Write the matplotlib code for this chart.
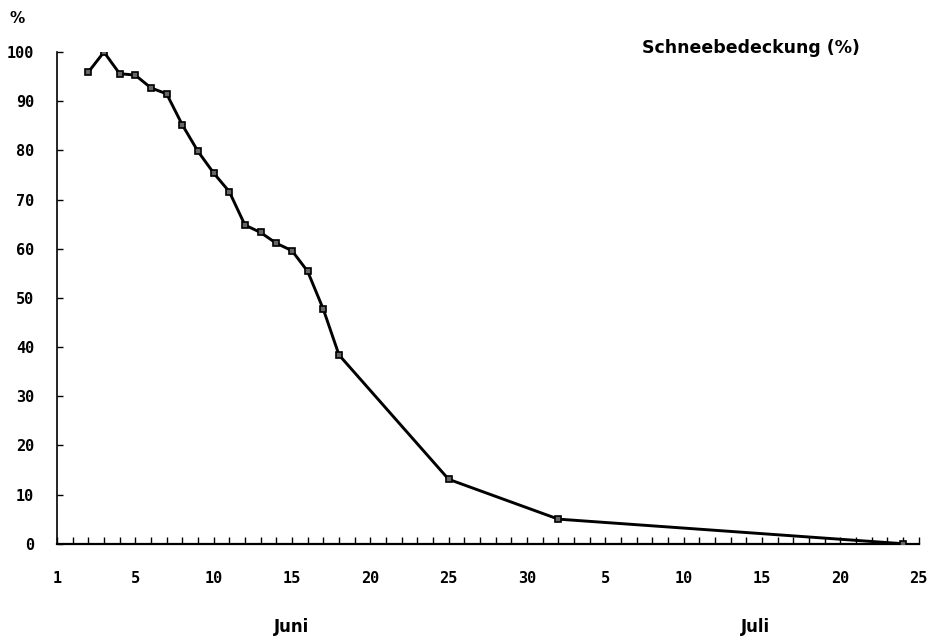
"""
Snow cover (Schneebedeckung) in percent, June 1 to July 25.
"""

import matplotlib
matplotlib.use("Agg")
import matplotlib.pyplot as plt
from matplotlib.transforms import blended_transform_factory

# day index: 1 = 1 June, 31 = 1 July
days = [2, 3, 4, 5, 6, 7, 8, 9, 10, 11, 12, 13, 14, 15, 16, 17, 18, 25, 32, 54]
cover = [95.9, 100.0, 95.6, 95.3, 92.7, 91.5, 85.2, 79.8, 75.4, 71.6,
         64.8, 63.3, 61.1, 59.6, 55.4, 47.7, 38.4, 13.1, 5.0, 0.0]

tick_days = [1, 5, 10, 15, 20, 25, 30, 35, 40, 45, 50, 55]
tick_labels = ["1", "5", "10", "15", "20", "25", "30", "5", "10", "15", "20", "25"]
y_ticks = [0, 10, 20, 30, 40, 50, 60, 70, 80, 90, 100]

months = ["Juni", "Juli"]
month_pos = [15.0, 44.6]

TICK_FONT = "DejaVu Sans Mono"

fig = plt.figure(figsize=(9.32, 6.36), dpi=100)
ax = fig.add_axes([0.0611, 0.1451, 0.9246, 0.7731])

ax.plot(days, cover, color="black", linewidth=2.1,
        marker="s", markersize=5, markerfacecolor="#666666",
        markeredgecolor="black", markeredgewidth=1.2, zorder=3)

ax.set_xlim(0, 55)
ax.set_ylim(0, 100)

for side in ["top", "right"]:
    ax.spines[side].set_visible(False)
ax.spines["left"].set_linewidth(1.2)
ax.spines["bottom"].set_linewidth(1.6)

# one small tick per day, labels at the 5-day marks ("1" sits at the axis)
ax.set_xticks(range(1, 56), minor=True)
ax.set_xticks([0] + tick_days[1:])
ax.set_xticklabels(tick_labels)
ax.tick_params(axis="x", which="both", direction="in", length=5, width=1, pad=20)
ax.set_yticks(y_ticks)
ax.set_yticklabels([str(v) for v in y_ticks])
ax.tick_params(axis="y", direction="in", length=4, width=1, pad=16.5)

for lbl in ax.get_xticklabels() + ax.get_yticklabels():
    lbl.set_fontfamily(TICK_FONT)
    lbl.set_fontweight("bold")
    lbl.set_fontsize(11)

trans = blended_transform_factory(ax.transData, ax.transAxes)
for name, pos in zip(months, month_pos):
    ax.text(pos, -0.17, name, transform=trans, ha="center", va="center",
            fontsize=12, fontweight="bold", family="DejaVu Sans")

ax.text(0.805, 1.008, "Schneebedeckung (%)", transform=ax.transAxes,
        ha="center", va="center", fontsize=12.5, fontweight="bold")
ax.text(-0.046, 1.069, "%", transform=ax.transAxes,
        ha="center", va="center", fontsize=11, fontweight="bold")

fig.savefig("out.png", dpi=100)
